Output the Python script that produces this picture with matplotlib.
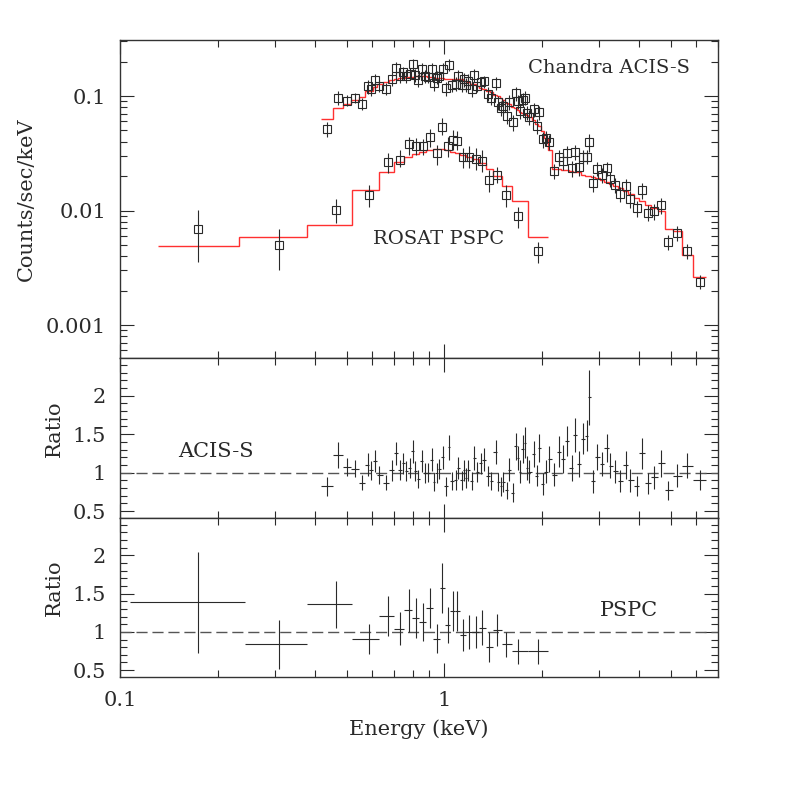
import numpy as np
import matplotlib.pyplot as plt
from matplotlib.ticker import FixedLocator, MultipleLocator, NullFormatter

plt.rcParams['font.family'] = ['DejaVu Serif']

# ---- Chandra ACIS-S: bin centres (keV), counts/sec/keV, model, data/model ratio
acis_energy = [0.4345, 0.4719, 0.5008, 0.5313, 0.5595, 0.5814, 0.5940, 0.6111, 0.6314, 0.6607,
               0.6896, 0.7110, 0.7314, 0.7488, 0.7633, 0.7853, 0.8004, 0.8136, 0.8330, 0.8533,
               0.8736, 0.8943, 0.9162, 0.9314, 0.9482, 0.9652, 0.9908, 1.0144, 1.0361, 1.0563,
               1.0890, 1.1070, 1.1340, 1.1527, 1.1717, 1.1885, 1.2175, 1.2402, 1.2669, 1.2980,
               1.3288, 1.3699, 1.3935, 1.4470, 1.4709, 1.4962, 1.5241, 1.5614, 1.5905, 1.6293,
               1.6645, 1.6884, 1.7163, 1.7494, 1.7783, 1.8076, 1.8336, 1.8957, 1.9323, 1.9683,
               2.0164, 2.0599, 2.1135, 2.1897, 2.2691, 2.3345, 2.3966, 2.4779, 2.5367, 2.6155,
               2.6907, 2.7565, 2.8083, 2.8890, 2.9720, 3.0666, 3.1780, 3.2529, 3.3711, 3.4931,
               3.6376, 3.7507, 3.9339, 4.0760, 4.2533, 4.4575, 4.6646, 4.9238, 5.2258, 5.6117,
               6.1376]
acis_counts = [0.0516, 0.0966, 0.0912, 0.0968, 0.0858, 0.1215, 0.1140, 0.1387, 0.1228, 0.1160,
               0.1422, 0.1760, 0.1495, 0.1607, 0.1495, 0.1569, 0.1895, 0.1526, 0.1374, 0.1720,
               0.1495, 0.1480, 0.1731, 0.1288, 0.1451, 0.1507, 0.1725, 0.1165, 0.1873, 0.1253,
               0.1281, 0.1492, 0.1256, 0.1394, 0.1258, 0.1366, 0.1144, 0.1515, 0.1235, 0.1315,
               0.1339, 0.1051, 0.0965, 0.1297, 0.0879, 0.0787, 0.0811, 0.0669, 0.0886, 0.0593,
               0.1053, 0.0898, 0.0740, 0.0930, 0.0968, 0.0716, 0.0662, 0.0765, 0.0547, 0.0722,
               0.0420, 0.0434, 0.0398, 0.0222, 0.0291, 0.0269, 0.0318, 0.0235, 0.0325, 0.0238,
               0.0294, 0.0296, 0.0397, 0.0175, 0.0231, 0.0205, 0.0234, 0.0188, 0.0167, 0.0140,
               0.0163, 0.0126, 0.0105, 0.0151, 0.0096, 0.00988, 0.0111, 0.00531, 0.00636, 0.00446,
               0.00239]
acis_model = [0.0630, 0.0786, 0.0851, 0.0923, 0.0986, 0.1106, 0.1106, 0.1206, 0.1265, 0.1333,
              0.1380, 0.1408, 0.1436, 0.1436, 0.1465, 0.1480, 0.1480, 0.1495, 0.1495, 0.1495,
              0.1495, 0.1480, 0.1480, 0.1465, 0.1451, 0.1436, 0.1436, 0.1422, 0.1408, 0.1408,
              0.1408, 0.1408, 0.1394, 0.1352, 0.1352, 0.1325, 0.1286, 0.1273, 0.1223, 0.1175,
              0.1144, 0.1106, 0.1084, 0.1020, 0.1000, 0.0961, 0.0923, 0.0869, 0.0851, 0.0802,
              0.0786, 0.0755, 0.0732, 0.0710, 0.0696, 0.0676, 0.0656, 0.0617, 0.0569, 0.0547,
              0.0495, 0.0430, 0.0338, 0.0229, 0.0229, 0.0228, 0.0226, 0.0221, 0.0218, 0.0215,
              0.0204, 0.0200, 0.0200, 0.0196, 0.0192, 0.0185, 0.0177, 0.0172, 0.0164, 0.0157,
              0.0148, 0.0139, 0.0129, 0.0121, 0.0112, 0.0105, 0.00990, 0.00689, 0.00662, 0.00409,
              0.002625]
acis_ratio = [0.82, 1.23, 1.07, 1.05, 0.87, 1.10, 1.03, 1.15, 0.97, 0.87,
              1.03, 1.25, 1.04, 1.12, 1.02, 1.06, 1.28, 1.02, 0.92, 1.15,
              1.00, 1.00, 1.17, 0.88, 1.00, 1.05, 1.20, 0.82, 1.33, 0.89,
              0.91, 1.06, 0.90, 1.03, 0.93, 1.03, 0.89, 1.19, 1.01, 1.12,
              1.17, 0.95, 0.89, 1.27, 0.88, 0.82, 0.88, 0.77, 1.04, 0.74,
              1.34, 1.19, 1.01, 1.31, 1.39, 1.06, 1.01, 1.24, 0.96, 1.32,
              0.85, 1.01, 1.18, 0.97, 1.27, 1.18, 1.41, 1.06, 1.49, 1.11,
              1.44, 1.48, 1.98, 0.89, 1.20, 1.11, 1.32, 1.09, 1.02, 0.89,
              1.10, 0.90, 0.82, 1.25, 0.86, 0.94, 1.12, 0.77, 0.96, 1.09,
              0.91]
acis_ratio_err = [0.12, 0.165, 0.12, 0.11, 0.10, 0.15, 0.12, 0.14, 0.12, 0.10,
                  0.14, 0.15, 0.13, 0.14, 0.13, 0.13, 0.15, 0.13, 0.12, 0.14,
                  0.13, 0.12, 0.15, 0.12, 0.13, 0.13, 0.15, 0.12, 0.16, 0.12,
                  0.13, 0.14, 0.12, 0.14, 0.13, 0.14, 0.12, 0.15, 0.13, 0.14,
                  0.15, 0.13, 0.12, 0.16, 0.12, 0.12, 0.13, 0.11, 0.15, 0.12,
                  0.18, 0.16, 0.15, 0.18, 0.20, 0.15, 0.15, 0.17, 0.14, 0.18,
                  0.14, 0.15, 0.17, 0.15, 0.20, 0.18, 0.20, 0.17, 0.22, 0.17,
                  0.20, 0.20, 0.36, 0.15, 0.17, 0.16, 0.18, 0.16, 0.15, 0.14,
                  0.18, 0.15, 0.13, 0.20, 0.14, 0.15, 0.18, 0.12, 0.15, 0.16,
                  0.13]

# ---- ROSAT PSPC
pspc_energy = [0.174, 0.310, 0.464, 0.587, 0.672, 0.731, 0.780, 0.820, 0.861, 0.905,
               0.952, 0.986, 1.029, 1.066, 1.097, 1.145, 1.194, 1.255, 1.310, 1.377,
               1.457, 1.554, 1.692, 1.950]
pspc_edges = [0.1074, 0.2431, 0.3778, 0.520, 0.630, 0.701, 0.7525, 0.7965, 0.837, 0.880,
              0.925, 0.972, 1.007, 1.044, 1.082, 1.120, 1.169, 1.220, 1.282, 1.348,
              1.417, 1.510, 1.622, 1.816, 2.094]
pspc_counts = [0.00685, 0.00500, 0.0102, 0.01374, 0.02652, 0.02777, 0.03787, 0.0366, 0.0366, 0.04411,
               0.0316, 0.05395, 0.0366, 0.04127, 0.0407, 0.02951, 0.02951, 0.02834, 0.02722, 0.01847,
               0.02042, 0.01374, 0.00895, 0.0044]
pspc_lo = [0.00357, 0.00302, 0.00782, 0.01066, 0.02138, 0.02413, 0.03053, 0.03053, 0.03053, 0.03608,
           0.02496, 0.04564, 0.02915, 0.03376, 0.03376, 0.02337, 0.02337, 0.0226, 0.02183, 0.01459,
           0.01728, 0.01079, 0.00699, 0.00346]
pspc_hi = [0.0101, 0.00686, 0.01253, 0.0167, 0.0316, 0.03376, 0.04411, 0.04272, 0.0421, 0.05119,
           0.03733, 0.06386, 0.04411, 0.05047, 0.0490, 0.03493, 0.0366, 0.0349, 0.03376, 0.02258,
           0.02413, 0.0167, 0.01079, 0.00534]
pspc_model_edges = [0.131, 0.233, 0.3778, 0.520, 0.630, 0.701, 0.7525, 0.7965, 0.837, 0.880,
                    0.925, 0.972, 1.007, 1.044, 1.082, 1.120, 1.169, 1.220, 1.282, 1.348,
                    1.417, 1.510, 1.622, 1.816, 2.094]
pspc_model = [0.004946, 0.005929, 0.00753, 0.01513, 0.02178, 0.02658, 0.02956, 0.03101, 0.03249, 0.03369,
              0.03458, 0.03437, 0.03355, 0.03249, 0.03203, 0.0307, 0.02951, 0.02834, 0.02578, 0.02308,
              0.02001, 0.01647, 0.01201, 0.005929]
pspc_ratio = [1.386, 0.835, 1.36, 0.905, 1.21, 1.043, 1.28, 1.18, 1.126, 1.31,
              0.913, 1.57, 1.09, 1.27, 1.27, 0.96, 1.0, 1.0, 1.056, 0.80,
              1.02, 0.835, 0.745, 0.745]
pspc_ratio_err = [0.665, 0.325, 0.31, 0.20, 0.26, 0.22, 0.285, 0.26, 0.25, 0.26,
                  0.19, 0.325, 0.235, 0.26, 0.26, 0.21, 0.22, 0.21, 0.23, 0.20,
                  0.21, 0.16, 0.16, 0.165]

ink = '#2a2a2a'
red = '#ff3030'
fs = 15

e = np.array(acis_energy)
mid = np.sqrt(e[:-1] * e[1:])
acis_edges = np.concatenate([[e[0] ** 2 / mid[0]], mid, [e[-1] ** 2 / mid[-1]]])
acis_xerr = [e - acis_edges[:-1], acis_edges[1:] - e]
acis_err = np.array(acis_ratio_err) * np.array(acis_model)

pe = np.array(pspc_energy)
pedg = np.array(pspc_edges)
pspc_xerr = [pe - pedg[:-1], pedg[1:] - pe]
pspc_yerr = [np.array(pspc_counts) - np.array(pspc_lo), np.array(pspc_hi) - np.array(pspc_counts)]

fig = plt.figure(figsize=(7.97, 7.97), dpi=100)
ax1 = fig.add_axes([0.1506, 0.5508, 0.7503, 0.3990])
ax2 = fig.add_axes([0.1506, 0.3501, 0.7503, 0.2007])
ax3 = fig.add_axes([0.1506, 0.1506, 0.7503, 0.1995])

# top panel: spectra
ax1.stairs(acis_model, acis_edges, baseline=None, color=red, lw=1.0)
ax1.stairs(pspc_model, pspc_model_edges, baseline=None, color=red, lw=1.0)
ax1.errorbar(acis_energy, acis_counts, yerr=acis_err, fmt='s', mfc='none', mec=ink,
             ms=5.5, mew=0.8, ecolor=ink, elinewidth=0.8, capsize=0)
ax1.errorbar(pspc_energy, pspc_counts, yerr=pspc_yerr, fmt='s', mfc='none', mec=ink,
             ms=5.5, mew=0.8, ecolor=ink, elinewidth=0.8, capsize=0)
ax1.set_yscale('log')
ax1.set_ylim(5.15e-4, 0.3084)
ax1.yaxis.set_major_locator(FixedLocator([0.001, 0.01, 0.1]))
ax1.set_yticklabels(['0.001', '0.01', '0.1'])
ax1.set_ylabel('Counts/sec/keV', fontsize=fs, color=ink, va='center')
ax1.yaxis.set_label_coords(-0.156, 0.5)
ax1.text(0.682, 0.912, 'Chandra ACIS-S', transform=ax1.transAxes, fontsize=14,
         color=ink, va='center', ha='left')
ax1.text(0.423, 0.374, 'ROSAT PSPC', transform=ax1.transAxes, fontsize=14,
         color=ink, va='center', ha='left')

# middle panel: ACIS ratio
ax2.axhline(1.0, color='#555555', lw=1.0, dashes=(8, 3.5))
ax2.errorbar(acis_energy, acis_ratio, xerr=acis_xerr, yerr=acis_ratio_err, fmt='none',
             ecolor=ink, elinewidth=0.8, capsize=0)
ax2.text(0.097, 0.4125, 'ACIS-S', transform=ax2.transAxes, fontsize=fs,
         color=ink, va='center', ha='left')

# bottom panel: PSPC ratio
ax3.axhline(1.0, color='#555555', lw=1.0, dashes=(8, 3.5))
ax3.errorbar(pspc_energy, pspc_ratio, xerr=pspc_xerr, yerr=pspc_ratio_err, fmt='none',
             ecolor=ink, elinewidth=0.8, capsize=0)
ax3.text(0.803, 0.415, 'PSPC', transform=ax3.transAxes, fontsize=fs,
         color=ink, va='center', ha='left')

for ax in (ax2, ax3):
    ax.set_ylim(0.41, 2.49)
    ax.yaxis.set_major_locator(MultipleLocator(0.5))
    ax.yaxis.set_minor_locator(MultipleLocator(0.1))
    ax.set_yticks([0.5, 1.0, 1.5, 2.0])
    ax.set_yticklabels(['0.5', '1', '1.5', '2'])
    ax.set_ylabel('Ratio', fontsize=fs, color=ink, va='center')
    ax.yaxis.set_label_coords(-0.109, 0.56)

for ax in (ax1, ax2, ax3):
    ax.set_xscale('log')
    ax.set_xlim(0.1, 7.0)
    ax.xaxis.set_major_locator(FixedLocator([0.1, 1.0]))
    ax.tick_params(which='both', direction='in', top=True, right=True,
                   labelsize=fs, labelcolor=ink, color=ink, width=0.8)
    ax.tick_params(which='major', length=10, pad=10)
    ax.tick_params(which='minor', length=5)
    for s in ax.spines.values():
        s.set_color('#333333')
        s.set_linewidth(1.0)

ax1.xaxis.set_major_formatter(NullFormatter())
ax2.xaxis.set_major_formatter(NullFormatter())
ax3.set_xticklabels(['0.1', '1'])
for ax in (ax1, ax2, ax3):
    ax.xaxis.set_minor_formatter(NullFormatter())
ax3.set_xlabel('Energy (keV)', fontsize=fs, color=ink)
ax3.xaxis.set_label_coords(0.5, -0.33)
ax3.xaxis.label.set_va('center')

fig.savefig('out.png', dpi=100)
